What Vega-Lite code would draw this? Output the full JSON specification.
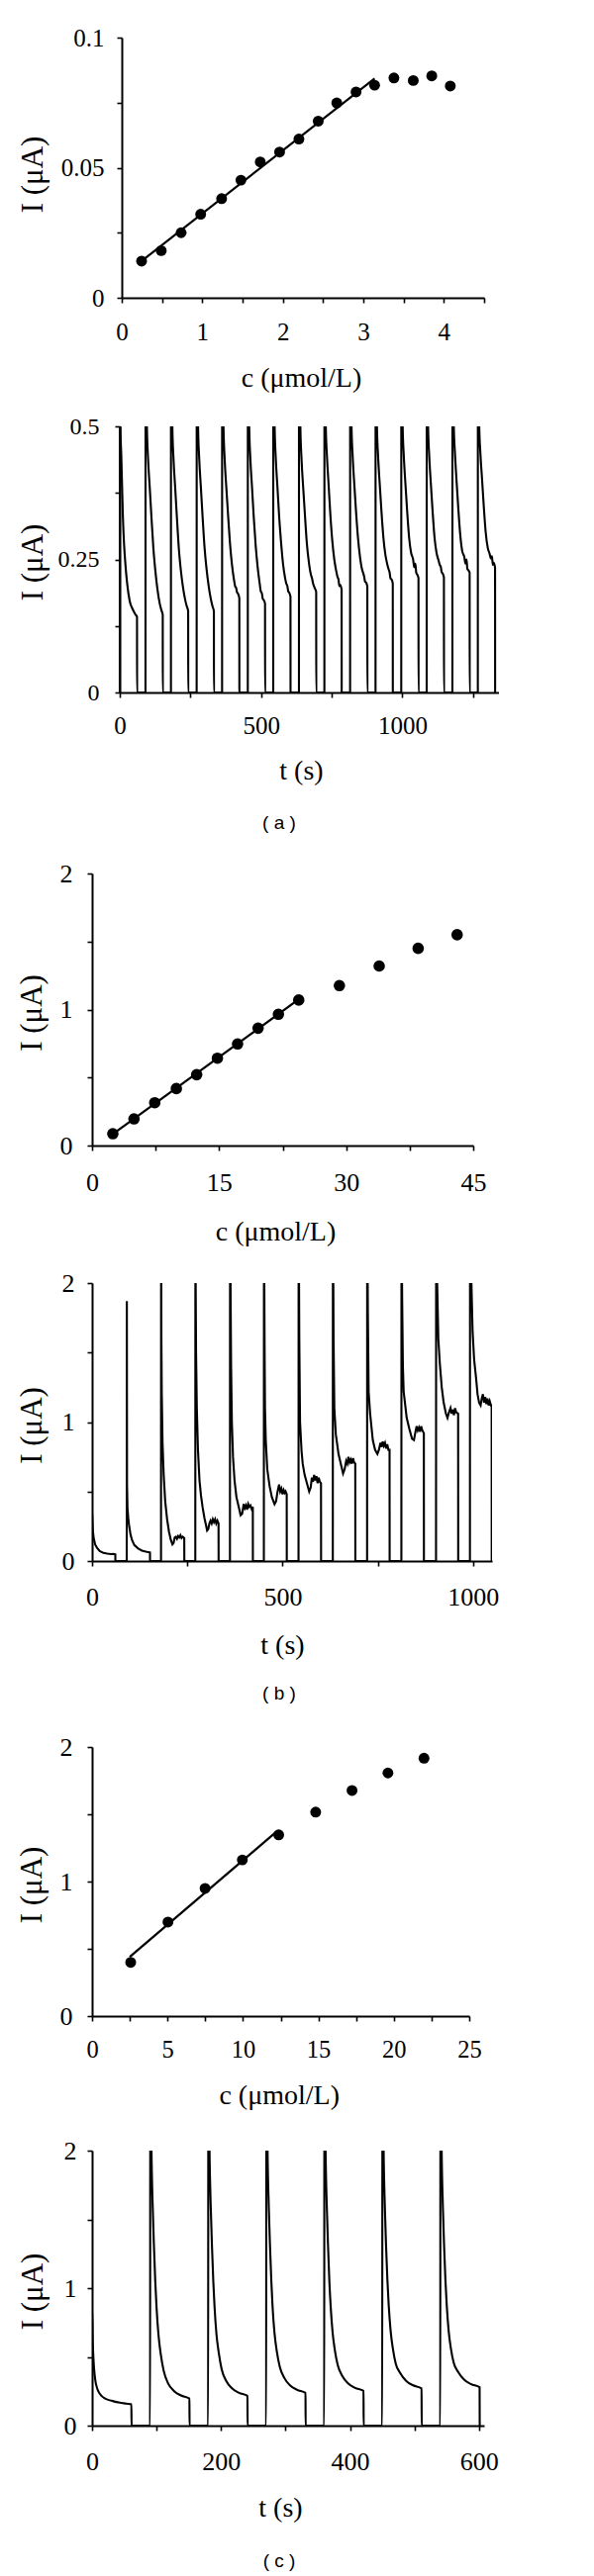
{
"$schema": "https://vega.github.io/schema/vega-lite/v6.json",
"padding": {"left": 16, "top": 26, "right": 5, "bottom": 5},
"background": "white",
"bounds": "flush",
"spacing": 130,
"resolve": {"scale": {"x": "independent", "y": "independent"}},
"config": {
  "view": {"stroke": null},
  "axis": {"labelFont": "Liberation Serif", "labelFontSize": 26, "labelColor": "black", "titleFont": "Liberation Serif", "titleFontSize": 28, "titleFontWeight": "normal", "titleColor": "black", "domainColor": "black", "domainWidth": 2, "tickColor": "black", "tickWidth": 1.6, "tickSize": 5, "grid": false, "labelFlush": false, "labelOverlap": false},
  "axisX": {"labelBaseline": "alphabetic", "titleBaseline": "alphabetic", "titleAlign": "center", "titleAngle": 0},
  "axisY": {"titleAngle": 270, "titleBaseline": "alphabetic", "titleAlign": "center", "titleFontSize": 31, "labelBaseline": "middle", "labelAlign": "right"},
  "title": {"font": "Liberation Sans", "fontSize": 19, "fontWeight": "normal", "color": "black"}
},
"datasets": {
  "p1": [{"c":0.246,"I":0.0141},{"c":0.49,"I":0.0181},{"c":0.737,"I":0.025},{"c":0.98,"I":0.0321},{"c":1.24,"I":0.0381},{"c":1.48,"I":0.0452},{"c":1.72,"I":0.0522},{"c":1.96,"I":0.056},{"c":2.2,"I":0.061},{"c":2.44,"I":0.0679},{"c":2.67,"I":0.0749},{"c":2.91,"I":0.0791},{"c":3.14,"I":0.0817},{"c":3.38,"I":0.0845},{"c":3.62,"I":0.0835},{"c":3.85,"I":0.0853},{"c":4.08,"I":0.0814}],
  "p1fit": [{"c":0.25,"I":0.0142},{"c":3.14,"I":0.0843}],
  "p3": [{"c":2.45,"I":0.087},{"c":4.95,"I":0.196},{"c":7.4,"I":0.315},{"c":9.95,"I":0.419},{"c":12.35,"I":0.521},{"c":14.8,"I":0.642},{"c":17.18,"I":0.747},{"c":19.6,"I":0.863},{"c":22.0,"I":0.965},{"c":24.4,"I":1.07},{"c":29.2,"I":1.176},{"c":33.9,"I":1.32},{"c":38.5,"I":1.45},{"c":43.1,"I":1.55}],
  "p3fit": [{"c":2.45,"I":0.085},{"c":24.4,"I":1.075}],
  "p5": [{"c":2.56,"I":0.399},{"c":5.03,"I":0.699},{"c":7.49,"I":0.949},{"c":9.96,"I":1.161},{"c":12.37,"I":1.347},{"c":14.82,"I":1.516},{"c":17.23,"I":1.677},{"c":19.61,"I":1.807},{"c":22.0,"I":1.917}],
  "p5fit": [{"c":2.5,"I":0.44},{"c":12.2,"I":1.368}],
  "p2": [
    {"t":0,"I":0},{"t":0.2,"I":0.7},{"t":2,"I":0.5},{"t":5,"I":0.45},{"t":8,"I":0.39},{"t":11,"I":0.33},{"t":15,"I":0.28},{"t":20,"I":0.24},{"t":26,"I":0.205},{"t":35,"I":0.172},{"t":45,"I":0.157},{"t":55,"I":0.147},{"t":61,"I":0.142},{"t":61.2,"I":0},
    {"t":91,"I":0},{"t":91.3,"I":1.2},{"t":93,"I":0.75},{"t":96,"I":0.5},{"t":100,"I":0.44},{"t":106,"I":0.385},{"t":112,"I":0.33},{"t":119,"I":0.27},{"t":126,"I":0.228},{"t":133,"I":0.195},{"t":141,"I":0.168},{"t":147,"I":0.155},{"t":152,"I":0.146},{"t":152.2,"I":0},
    {"t":181,"I":0},{"t":181.3,"I":1.2},{"t":183,"I":0.75},{"t":186,"I":0.5},{"t":190,"I":0.44},{"t":196,"I":0.385},{"t":202,"I":0.33},{"t":209,"I":0.27},{"t":216,"I":0.23},{"t":223,"I":0.2},{"t":231,"I":0.175},{"t":237,"I":0.162},{"t":242,"I":0.153},{"t":242.2,"I":0},
    {"t":272,"I":0},{"t":272.3,"I":1.2},{"t":274,"I":0.75},{"t":277,"I":0.5},{"t":281,"I":0.44},{"t":287,"I":0.385},{"t":293,"I":0.33},{"t":300,"I":0.272},{"t":307,"I":0.232},{"t":314,"I":0.202},{"t":322,"I":0.176},{"t":328,"I":0.162},{"t":333,"I":0.153},{"t":333.2,"I":0},
    {"t":362,"I":0},{"t":362.3,"I":1.2},{"t":364,"I":0.75},{"t":367,"I":0.5},{"t":371,"I":0.44},{"t":377,"I":0.385},{"t":383,"I":0.335},{"t":390,"I":0.28},{"t":397,"I":0.24},{"t":404,"I":0.212},{"t":408,"I":0.2},{"t":412,"I":0.196},{"t":415,"I":0.188},{"t":418,"I":0.186},{"t":423,"I":0.177},{"t":423.2,"I":0},
    {"t":453,"I":0},{"t":453.3,"I":1.2},{"t":455,"I":0.75},{"t":458,"I":0.5},{"t":462,"I":0.44},{"t":468,"I":0.385},{"t":474,"I":0.33},{"t":481,"I":0.275},{"t":488,"I":0.235},{"t":495,"I":0.205},{"t":499,"I":0.19},{"t":503,"I":0.186},{"t":506,"I":0.176},{"t":509,"I":0.174},{"t":514,"I":0.167},{"t":514.2,"I":0},
    {"t":543,"I":0},{"t":543.3,"I":1.2},{"t":545,"I":0.75},{"t":548,"I":0.5},{"t":552,"I":0.44},{"t":558,"I":0.385},{"t":564,"I":0.33},{"t":571,"I":0.28},{"t":578,"I":0.24},{"t":585,"I":0.215},{"t":589,"I":0.205},{"t":593,"I":0.2},{"t":596,"I":0.19},{"t":599,"I":0.188},{"t":604,"I":0.18},{"t":604.2,"I":0},
    {"t":634,"I":0},{"t":634.3,"I":1.2},{"t":636,"I":0.75},{"t":639,"I":0.5},{"t":643,"I":0.44},{"t":649,"I":0.385},{"t":655,"I":0.335},{"t":662,"I":0.28},{"t":669,"I":0.245},{"t":676,"I":0.222},{"t":680,"I":0.215},{"t":684,"I":0.205},{"t":687,"I":0.2},{"t":690,"I":0.196},{"t":695,"I":0.189},{"t":695.2,"I":0},
    {"t":724,"I":0},{"t":724.3,"I":1.2},{"t":726,"I":0.75},{"t":729,"I":0.5},{"t":733,"I":0.445},{"t":739,"I":0.39},{"t":745,"I":0.335},{"t":752,"I":0.285},{"t":759,"I":0.25},{"t":766,"I":0.228},{"t":770,"I":0.218},{"t":774,"I":0.212},{"t":777,"I":0.2},{"t":780,"I":0.202},{"t":785,"I":0.193},{"t":785.2,"I":0},
    {"t":815,"I":0},{"t":815.3,"I":1.2},{"t":817,"I":0.75},{"t":820,"I":0.5},{"t":824,"I":0.445},{"t":830,"I":0.39},{"t":836,"I":0.34},{"t":843,"I":0.29},{"t":850,"I":0.255},{"t":857,"I":0.232},{"t":861,"I":0.225},{"t":865,"I":0.217},{"t":868,"I":0.208},{"t":871,"I":0.207},{"t":876,"I":0.199},{"t":876.2,"I":0},
    {"t":905,"I":0},{"t":905.3,"I":1.2},{"t":907,"I":0.75},{"t":910,"I":0.5},{"t":914,"I":0.445},{"t":920,"I":0.39},{"t":926,"I":0.34},{"t":933,"I":0.29},{"t":940,"I":0.258},{"t":947,"I":0.24},{"t":951,"I":0.232},{"t":955,"I":0.225},{"t":958,"I":0.214},{"t":961,"I":0.213},{"t":966,"I":0.205},{"t":966.2,"I":0},
    {"t":996,"I":0},{"t":996.3,"I":1.2},{"t":998,"I":0.75},{"t":1001,"I":0.5},{"t":1005,"I":0.445},{"t":1011,"I":0.39},{"t":1017,"I":0.34},{"t":1024,"I":0.29},{"t":1031,"I":0.262},{"t":1038,"I":0.25},{"t":1042,"I":0.235},{"t":1046,"I":0.242},{"t":1049,"I":0.225},{"t":1052,"I":0.222},{"t":1057,"I":0.215},{"t":1057.2,"I":0},
    {"t":1086,"I":0},{"t":1086.3,"I":1.2},{"t":1088,"I":0.75},{"t":1091,"I":0.5},{"t":1095,"I":0.445},{"t":1101,"I":0.39},{"t":1107,"I":0.34},{"t":1114,"I":0.29},{"t":1121,"I":0.262},{"t":1128,"I":0.248},{"t":1132,"I":0.24},{"t":1136,"I":0.236},{"t":1139,"I":0.226},{"t":1142,"I":0.224},{"t":1147,"I":0.216},{"t":1147.2,"I":0},
    {"t":1177,"I":0},{"t":1177.3,"I":1.2},{"t":1179,"I":0.75},{"t":1182,"I":0.5},{"t":1186,"I":0.45},{"t":1192,"I":0.395},{"t":1198,"I":0.345},{"t":1205,"I":0.295},{"t":1212,"I":0.265},{"t":1219,"I":0.255},{"t":1223,"I":0.242},{"t":1227,"I":0.25},{"t":1230,"I":0.232},{"t":1233,"I":0.23},{"t":1238,"I":0.225},{"t":1238.2,"I":0},
    {"t":1267,"I":0},{"t":1267.3,"I":1.2},{"t":1269,"I":0.75},{"t":1272,"I":0.5},{"t":1276,"I":0.45},{"t":1282,"I":0.4},{"t":1288,"I":0.35},{"t":1295,"I":0.3},{"t":1302,"I":0.272},{"t":1309,"I":0.26},{"t":1313,"I":0.252},{"t":1317,"I":0.256},{"t":1320,"I":0.24},{"t":1323,"I":0.244},{"t":1328,"I":0.234},{"t":1328.2,"I":0}
  ],
  "p4": [
    {"t":0,"I":0},{"t":0.3,"I":0.34},{"t":2,"I":0.22},{"t":4,"I":0.17},{"t":8,"I":0.12},{"t":13,"I":0.095},{"t":20,"I":0.072},{"t":30,"I":0.058},{"t":40,"I":0.053},{"t":50,"I":0.05},{"t":56,"I":0.051},{"t":61,"I":0.048},{"t":61.2,"I":0},
    {"t":91,"I":0},{"t":91.3,"I":1.87},{"t":91.8,"I":0.55},{"t":93,"I":0.38},{"t":95,"I":0.31},{"t":97,"I":0.26},{"t":101,"I":0.19},{"t":105,"I":0.15},{"t":111,"I":0.115},{"t":121,"I":0.09},{"t":131,"I":0.075},{"t":141,"I":0.067},{"t":152,"I":0.062},{"t":152.2,"I":0},
    {"t":181,"I":0},{"t":181.3,"I":2.6},{"t":182,"I":1.6},{"t":183,"I":1.2},{"t":185,"I":0.85},{"t":188,"I":0.62},{"t":192,"I":0.43},{"t":197,"I":0.3},{"t":202,"I":0.21},{"t":207,"I":0.15},{"t":211,"I":0.12},{"t":214,"I":0.13},{"t":217,"I":0.17},{"t":220,"I":0.175},{"t":223,"I":0.16},{"t":226,"I":0.18},{"t":229,"I":0.17},{"t":232,"I":0.185},{"t":235,"I":0.165},{"t":238,"I":0.175},{"t":242,"I":0.165},{"t":242.2,"I":0},
    {"t":271,"I":0},{"t":271.3,"I":2.6},{"t":272,"I":2.0},{"t":273,"I":1.5},{"t":275,"I":1.1},{"t":278,"I":0.8},{"t":282,"I":0.58},{"t":286,"I":0.47},{"t":290,"I":0.39},{"t":295,"I":0.31},{"t":299,"I":0.26},{"t":302,"I":0.22},{"t":305,"I":0.23},{"t":308,"I":0.27},{"t":311,"I":0.29},{"t":314,"I":0.27},{"t":317,"I":0.3},{"t":320,"I":0.28},{"t":323,"I":0.3},{"t":326,"I":0.27},{"t":329,"I":0.29},{"t":332,"I":0.27},{"t":332.2,"I":0},
    {"t":362,"I":0},{"t":362.3,"I":2.6},{"t":363,"I":2.2},{"t":365,"I":1.4},{"t":367,"I":1.0},{"t":370,"I":0.75},{"t":374,"I":0.58},{"t":379,"I":0.46},{"t":385,"I":0.39},{"t":390,"I":0.33},{"t":394,"I":0.34},{"t":398,"I":0.41},{"t":401,"I":0.38},{"t":404,"I":0.4},{"t":407,"I":0.37},{"t":410,"I":0.41},{"t":413,"I":0.39},{"t":416,"I":0.4},{"t":419,"I":0.375},{"t":422,"I":0.39},{"t":422.2,"I":0},
    {"t":451,"I":0},{"t":451.3,"I":2.6},{"t":452,"I":2.1},{"t":453,"I":1.5},{"t":454,"I":1.1},{"t":456,"I":0.87},{"t":460,"I":0.66},{"t":466,"I":0.54},{"t":472,"I":0.46},{"t":479,"I":0.41},{"t":483,"I":0.43},{"t":487,"I":0.5},{"t":491,"I":0.55},{"t":494,"I":0.5},{"t":497,"I":0.52},{"t":500,"I":0.48},{"t":503,"I":0.51},{"t":506,"I":0.49},{"t":508,"I":0.5},{"t":511,"I":0.48},{"t":511.2,"I":0},
    {"t":542,"I":0},{"t":542.3,"I":2.6},{"t":543,"I":2.2},{"t":544,"I":1.6},{"t":546,"I":1.0},{"t":550,"I":0.79},{"t":553,"I":0.7},{"t":558,"I":0.62},{"t":564,"I":0.56},{"t":570,"I":0.5},{"t":574,"I":0.53},{"t":577,"I":0.6},{"t":580,"I":0.57},{"t":583,"I":0.62},{"t":586,"I":0.58},{"t":589,"I":0.61},{"t":592,"I":0.56},{"t":595,"I":0.6},{"t":598,"I":0.57},{"t":601,"I":0.56},{"t":601.2,"I":0},
    {"t":632,"I":0},{"t":632.3,"I":2.6},{"t":633,"I":2.2},{"t":634,"I":1.6},{"t":636,"I":1.1},{"t":640,"I":0.91},{"t":647,"I":0.77},{"t":653,"I":0.7},{"t":659,"I":0.63},{"t":663,"I":0.66},{"t":667,"I":0.72},{"t":670,"I":0.7},{"t":673,"I":0.75},{"t":676,"I":0.71},{"t":679,"I":0.73},{"t":682,"I":0.7},{"t":685,"I":0.74},{"t":688,"I":0.71},{"t":691,"I":0.7},{"t":691.2,"I":0},
    {"t":722,"I":0},{"t":722.3,"I":2.6},{"t":723,"I":2.3},{"t":724,"I":1.8},{"t":726,"I":1.22},{"t":730,"I":1.06},{"t":737,"I":0.87},{"t":743,"I":0.8},{"t":749,"I":0.77},{"t":753,"I":0.8},{"t":757,"I":0.85},{"t":760,"I":0.82},{"t":763,"I":0.86},{"t":766,"I":0.83},{"t":769,"I":0.85},{"t":772,"I":0.81},{"t":775,"I":0.84},{"t":778,"I":0.8},{"t":781,"I":0.8},{"t":781.2,"I":0},
    {"t":812,"I":0},{"t":812.3,"I":2.6},{"t":813,"I":2.3},{"t":814,"I":1.9},{"t":816,"I":1.4},{"t":818,"I":1.22},{"t":826,"I":1.03},{"t":833,"I":0.95},{"t":840,"I":0.88},{"t":845,"I":0.87},{"t":849,"I":0.93},{"t":852,"I":0.97},{"t":855,"I":0.94},{"t":858,"I":0.96},{"t":861,"I":0.93},{"t":864,"I":0.97},{"t":867,"I":0.94},{"t":871,"I":0.92},{"t":871.2,"I":0},
    {"t":903,"I":0},{"t":903.3,"I":2.6},{"t":904,"I":2.4},{"t":906,"I":2.0},{"t":909,"I":1.6},{"t":913,"I":1.42},{"t":918,"I":1.25},{"t":923,"I":1.14},{"t":929,"I":1.06},{"t":933,"I":1.03},{"t":937,"I":1.07},{"t":941,"I":1.1},{"t":944,"I":1.06},{"t":947,"I":1.09},{"t":950,"I":1.05},{"t":953,"I":1.1},{"t":956,"I":1.07},{"t":961,"I":1.06},{"t":961.2,"I":0},
    {"t":992,"I":0},{"t":992.3,"I":2.6},{"t":993,"I":2.5},{"t":995,"I":2.1},{"t":999,"I":1.65},{"t":1003,"I":1.45},{"t":1008,"I":1.32},{"t":1012,"I":1.2},{"t":1016,"I":1.14},{"t":1020,"I":1.12},{"t":1023,"I":1.17},{"t":1026,"I":1.2},{"t":1029,"I":1.14},{"t":1032,"I":1.18},{"t":1035,"I":1.13},{"t":1038,"I":1.17},{"t":1041,"I":1.12},{"t":1044,"I":1.15},{"t":1047,"I":1.12},{"t":1049,"I":1.12},{"t":1049.2,"I":0}
  ],
  "p6": [
    {"t":0,"I":0},{"t":0.3,"I":0.82},{"t":1,"I":0.62},{"t":2,"I":0.5},{"t":3,"I":0.42},{"t":5,"I":0.33},{"t":8,"I":0.27},{"t":10,"I":0.247},{"t":15,"I":0.215},{"t":19,"I":0.2},{"t":25,"I":0.188},{"t":32,"I":0.179},{"t":40,"I":0.17},{"t":45,"I":0.165},{"t":53,"I":0.16},{"t":61,"I":0.156},{"t":61.2,"I":0},
    {"t":90,"I":0},{"t":90.3,"I":3.0},{"t":92,"I":2.05},{"t":94,"I":1.6},{"t":96,"I":1.3},{"t":98,"I":1.05},{"t":100,"I":0.86},{"t":103,"I":0.66},{"t":106.5,"I":0.52},{"t":111,"I":0.4},{"t":118,"I":0.307},{"t":127,"I":0.252},{"t":138,"I":0.219},{"t":151,"I":0.197},{"t":151.2,"I":0},
    {"t":180,"I":0},{"t":180.3,"I":3.0},{"t":182,"I":2.05},{"t":184,"I":1.6},{"t":186,"I":1.3},{"t":188,"I":1.05},{"t":190,"I":0.86},{"t":193,"I":0.66},{"t":196.5,"I":0.53},{"t":201,"I":0.41},{"t":208,"I":0.326},{"t":217,"I":0.271},{"t":228,"I":0.238},{"t":241,"I":0.216},{"t":241.2,"I":0},
    {"t":270,"I":0},{"t":270.3,"I":3.0},{"t":272,"I":2.05},{"t":274,"I":1.6},{"t":276,"I":1.3},{"t":278,"I":1.05},{"t":280,"I":0.86},{"t":283,"I":0.67},{"t":286.5,"I":0.54},{"t":291,"I":0.43},{"t":298,"I":0.348},{"t":307,"I":0.293},{"t":318,"I":0.26},{"t":331,"I":0.238},{"t":331.2,"I":0},
    {"t":360,"I":0},{"t":360.3,"I":3.0},{"t":362,"I":2.05},{"t":364,"I":1.6},{"t":366,"I":1.3},{"t":368,"I":1.05},{"t":370,"I":0.87},{"t":373,"I":0.68},{"t":376.5,"I":0.55},{"t":381,"I":0.44},{"t":388,"I":0.362},{"t":397,"I":0.307},{"t":408,"I":0.274},{"t":421,"I":0.252},{"t":421.2,"I":0},
    {"t":450,"I":0},{"t":450.3,"I":3.0},{"t":452,"I":2.05},{"t":454,"I":1.6},{"t":456,"I":1.3},{"t":458,"I":1.06},{"t":460,"I":0.88},{"t":463,"I":0.69},{"t":466.5,"I":0.56},{"t":471,"I":0.45},{"t":478,"I":0.381},{"t":487,"I":0.326},{"t":498,"I":0.293},{"t":511,"I":0.271},{"t":511.2,"I":0},
    {"t":540,"I":0},{"t":540.3,"I":3.0},{"t":542,"I":2.05},{"t":544,"I":1.6},{"t":546,"I":1.3},{"t":548,"I":1.06},{"t":550,"I":0.88},{"t":553,"I":0.69},{"t":556.5,"I":0.56},{"t":561,"I":0.455},{"t":568,"I":0.389},{"t":577,"I":0.334},{"t":588,"I":0.301},{"t":601,"I":0.279},{"t":601.2,"I":0}
  ]
},
"vconcat": [
  {
    "width": 396, "height": 263,
    "encoding": {
      "x": {"field": "c", "type": "quantitative", "scale": {"domain": [0, 4.5], "range": [30, 396], "nice": false, "zero": false},
            "axis": {"values": [0,0.5,1,1.5,2,2.5,3,3.5,4,4.5], "labelExpr": "datum.value % 1 == 0 ? format(datum.value, 'd') : ''", "labelFontSize": 25, "labelPadding": 37, "labelBaseline": "alphabetic", "title": "c (μmol/L)", "titleBaseline": "alphabetic", "titleX": 211, "titleY": 89}},
      "y": {"field": "I", "type": "quantitative", "scale": {"domain": [0, 0.1], "nice": false, "zero": false},
            "axis": {"values": [0,0.025,0.05,0.075,0.1], "labelExpr": "datum.value == 0 ? '0' : datum.value == 0.05 ? '0.05' : datum.value == 0.1 ? '0.1' : ''", "labelFontSize": 25, "labelPadding": 13, "offset": -30, "title": "I (μA)", "titleAngle": 270, "titleBaseline": "alphabetic", "titleX": -80.3, "titleY": 138}}
    },
    "layer": [
      {"data": {"name": "p1fit"}, "mark": {"type": "line", "color": "black", "strokeWidth": 2.2}, "encoding": {}},
      {"data": {"name": "p1"}, "mark": {"type": "point", "filled": true, "color": "black", "opacity": 1, "size": 120}}
    ]
  },
  {
    "width": 411, "height": 269,
    "data": {"name": "p2"},
    "title": {"text": "( a )", "orient": "bottom", "frame": "group", "anchor": "middle", "offset": 30, "baseline": "top", "dx": -16.5},
    "mark": {"type": "line", "color": "black", "strokeWidth": 2.1, "clip": true, "interpolate": "monotone"},
    "encoding": {
      "x": {"field": "t", "type": "quantitative", "scale": {"domain": [0, 1340], "range": [28, 410.5], "nice": false, "zero": false},
            "axis": {"values": [0,250,500,750,1000,1250], "labelExpr": "datum.value % 500 == 0 ? format(datum.value, 'd') : ''", "labelFontSize": 25, "labelPadding": 36, "labelBaseline": "alphabetic", "title": "t (s)", "titleBaseline": "alphabetic", "titleX": 211, "titleY": 87}},
      "y": {"field": "I", "type": "quantitative", "scale": {"domain": [0, 0.5], "nice": false, "zero": false},
            "axis": {"values": [0,0.125,0.25,0.375,0.5], "labelExpr": "datum.value == 0 ? '0' : datum.value == 0.25 ? '0.25' : datum.value == 0.5 ? '0.5' : ''", "labelFontSize": 24, "labelPadding": 16, "offset": -28, "title": "I (μA)", "titleAngle": 270, "titleBaseline": "alphabetic", "titleX": -78.3, "titleY": 137}}
    }
  },
  {
    "width": 385, "height": 337,
    "encoding": {
      "x": {"field": "c", "type": "quantitative", "scale": {"domain": [0, 45], "nice": false, "zero": false},
            "axis": {"values": [0,7.5,15,22.5,30,37.5,45], "labelExpr": "datum.value % 15 == 0 ? format(datum.value, 'd') : ''", "labelPadding": 40, "labelBaseline": "alphabetic", "offset": -9, "title": "c (μmol/L)", "titleBaseline": "alphabetic", "titleX": 185, "titleY": 95}},
      "y": {"field": "I", "type": "quantitative", "scale": {"domain": [0, 2], "range": [328, 53], "nice": false, "zero": false},
            "axis": {"values": [0,0.5,1,1.5,2], "labelExpr": "datum.value % 1 == 0 ? format(datum.value, 'd') : ''", "labelPadding": 15, "title": "I (μA)", "titleAngle": 270, "titleBaseline": "alphabetic", "titleX": -52, "titleY": 193.5}}
    },
    "layer": [
      {"data": {"name": "p3fit"}, "mark": {"type": "line", "color": "black", "strokeWidth": 2.2}, "encoding": {}},
      {"data": {"name": "p3"}, "mark": {"type": "point", "filled": true, "color": "black", "opacity": 1, "size": 135}}
    ]
  },
  {
    "width": 404, "height": 281,
    "data": {"name": "p4"},
    "title": {"text": "( b )", "orient": "bottom", "frame": "group", "anchor": "middle", "offset": 26, "baseline": "top", "dx": -13},
    "mark": {"type": "line", "color": "black", "strokeWidth": 2.1, "clip": true},
    "encoding": {
      "x": {"field": "t", "type": "quantitative", "scale": {"domain": [0, 1050], "nice": false, "zero": false},
            "axis": {"values": [0,250,500,750,1000], "labelExpr": "datum.value % 500 == 0 ? format(datum.value, 'd') : ''", "labelPadding": 39, "labelBaseline": "alphabetic", "title": "t (s)", "titleBaseline": "alphabetic", "titleX": 192, "titleY": 93}},
      "y": {"field": "I", "type": "quantitative", "scale": {"domain": [0, 2], "nice": false, "zero": false},
            "axis": {"values": [0,0.5,1,1.5,2], "labelExpr": "datum.value % 1 == 0 ? format(datum.value, 'd') : ''", "labelPadding": 13, "title": "I (μA)", "titleAngle": 270, "titleBaseline": "alphabetic", "titleX": -52, "titleY": 143.5}}
    }
  },
  {
    "width": 381, "height": 336,
    "encoding": {
      "x": {"field": "c", "type": "quantitative", "scale": {"domain": [0, 25], "nice": false, "zero": false},
            "axis": {"values": [0,2.5,5,7.5,10,12.5,15,17.5,20,22.5,25], "labelExpr": "datum.value % 5 == 0 ? format(datum.value, 'd') : ''", "labelFontSize": 24.5, "labelPadding": 36, "labelBaseline": "alphabetic", "offset": -6, "title": "c (μmol/L)", "titleBaseline": "alphabetic", "titleX": 188.7, "titleY": 88}},
      "y": {"field": "I", "type": "quantitative", "scale": {"domain": [0, 2], "range": [330, 58], "nice": false, "zero": false},
            "axis": {"values": [0,0.5,1,1.5,2], "labelExpr": "datum.value % 1 == 0 ? format(datum.value, 'd') : ''", "labelPadding": 15, "title": "I (μA)", "titleAngle": 270, "titleBaseline": "alphabetic", "titleX": -52, "titleY": 197}}
    },
    "layer": [
      {"data": {"name": "p5fit"}, "mark": {"type": "line", "color": "black", "strokeWidth": 2.2}, "encoding": {}},
      {"data": {"name": "p5"}, "mark": {"type": "point", "filled": true, "color": "black", "opacity": 1, "size": 120}}
    ]
  },
  {
    "width": 396, "height": 278,
    "data": {"name": "p6"},
    "title": {"text": "( c )", "orient": "bottom", "frame": "group", "anchor": "middle", "offset": 31, "baseline": "top", "dx": -9},
    "mark": {"type": "line", "color": "black", "strokeWidth": 2.1, "clip": true, "interpolate": "monotone"},
    "encoding": {
      "x": {"field": "t", "type": "quantitative", "scale": {"domain": [0, 608], "nice": false, "zero": false},
            "axis": {"values": [0,100,200,300,400,500,600], "labelExpr": "datum.value % 200 == 0 ? format(datum.value, 'd') : ''", "labelPadding": 39, "labelBaseline": "alphabetic", "title": "t (s)", "titleBaseline": "alphabetic", "titleX": 190, "titleY": 91}},
      "y": {"field": "I", "type": "quantitative", "scale": {"domain": [0, 2], "nice": false, "zero": false},
            "axis": {"values": [0,0.5,1,1.5,2], "labelExpr": "datum.value % 1 == 0 ? format(datum.value, 'd') : ''", "labelPadding": 11, "title": "I (μA)", "titleAngle": 270, "titleBaseline": "alphabetic", "titleX": -50.3, "titleY": 142}}
    }
  }
]
}
